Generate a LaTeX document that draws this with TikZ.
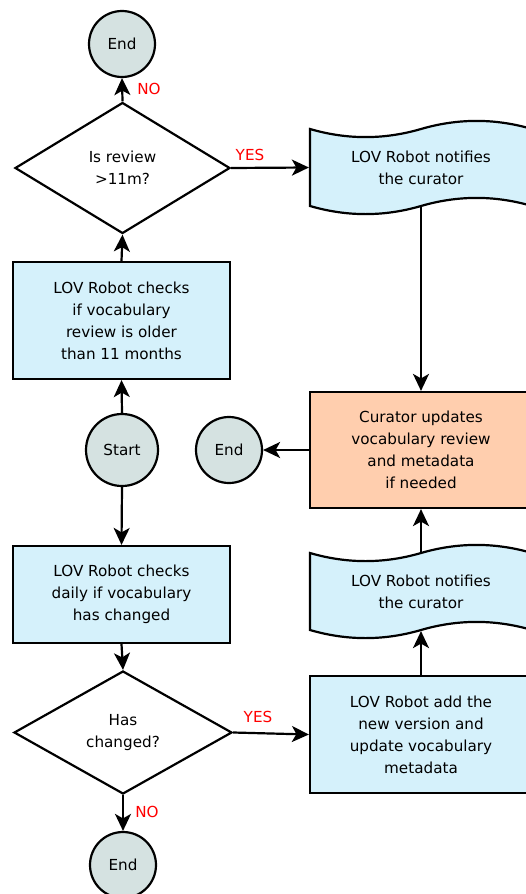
\documentclass[tikz,border=0pt]{standalone}
\usepackage{fontspec}
\setmainfont{DejaVu Sans}
\usetikzlibrary{shapes.geometric,arrows.meta,calc}
\definecolor{boxblue}{HTML}{D5F1FB}
\definecolor{peach}{HTML}{FFCEAE}
\definecolor{circfill}{HTML}{D5E2E1}
\tikzset{
  base/.style={font=\fontsize{15.2}{22}\selectfont, align=center, line width=2.2pt},
  term/.style={base, circle, draw, fill=circfill, minimum size=66pt, inner sep=0pt},
  proc/.style={base, rectangle, draw, fill=boxblue, inner sep=0pt},
  dec/.style={base, diamond, draw, fill=white, inner sep=0pt},
  arr/.style={-{Stealth[length=17pt,width=16pt,inset=4.5pt]}, line width=2.2pt},
  lab/.style={font=\fontsize{15.2}{16}\selectfont, text=red},
  tapeshape/.style={line width=2.2pt, fill=boxblue, draw}
}
\newcommand\tapeat[1]{%
  \begin{scope}[shift={(#1)}]
    \path[tapeshape] (0,9) .. controls (37,19.8) and (74,19.8) .. (111,9)
      .. controls (148,-1.8) and (185,-1.8) .. (222,9) -- (222,86)
      .. controls (185,75.2) and (148,75.2) .. (111,86)
      .. controls (74,96.8) and (37,96.8) .. (0,86) -- cycle;
  \end{scope}}
\begin{document}
\begin{tikzpicture}[x=1pt,y=-1pt]
\path[use as bounding box, clip] (0,0) rectangle (526,894);
% left column
\node[term] (endt) at (122,44) {End};
\node[dec, minimum width=215pt, minimum height=131pt] (d1) at (122.5,168) {Is review\\>11m?};
\node[proc, minimum width=217pt, minimum height=117pt] (b1) at (121.5,320.5) {LOV Robot checks\\if vocabulary\\review is older\\than 11 months};
\node[term, minimum size=72pt] (start) at (122,450) {Start};
\node[proc, minimum width=217pt, minimum height=97pt] (b2) at (121.5,594.5) {LOV Robot checks\\daily if vocabulary\\has changed};
\node[dec, minimum width=218pt, minimum height=123pt] (d2) at (123,732.5) {Has\\changed?};
\node[term] (endb) at (123,865) {End};
% right column
\tapeat{310,120}
\node[base, minimum width=222pt, minimum height=77pt, inner sep=0pt] (w1) at (421,167.5) {LOV Robot notifies\\the curator};
\node[proc, fill=peach, minimum width=222pt, minimum height=116pt] (cur) at (421,450) {Curator updates\\vocabulary review\\and metadata\\if needed};
\node[term] (endm) at (229,450) {End};
\tapeat{310,544}
\node[base, minimum width=222pt, minimum height=77pt, inner sep=0pt] (w2) at (421,591.5) {LOV Robot notifies\\the curator};
\node[proc, minimum width=222pt, minimum height=117pt] (add) at (421,734.5) {LOV Robot add the\\new version and\\update vocabulary\\metadata};
% connectors
\draw[arr] (start.north) -- (b1.south);
\draw[arr] (b1.north) -- (d1.south);
\draw[arr] (d1.north) -- (endt.south);
\draw[arr] (d1.east) -- (w1.west);
\draw[arr] (w1.south) -- (cur.north);
\draw[arr] (cur.west) -- (endm.east);
\draw[arr] (start.south) -- (b2.north);
\draw[arr] (b2.south) -- (d2.north);
\draw[arr] (d2.south) -- (endb.north);
\draw[arr] (d2.east) -- (add.west);
\draw[arr] (add.north) -- (w2.south);
\draw[arr] (w2.north) -- (cur.south);
% labels
\node[lab] (no1) at (149,89) {NO};
\node[lab] (yes1) at (250,155) {YES};
\node[lab] (yes2) at (258,717) {YES};
\node[lab] (no2) at (147,812) {NO};
\end{tikzpicture}
\end{document}
